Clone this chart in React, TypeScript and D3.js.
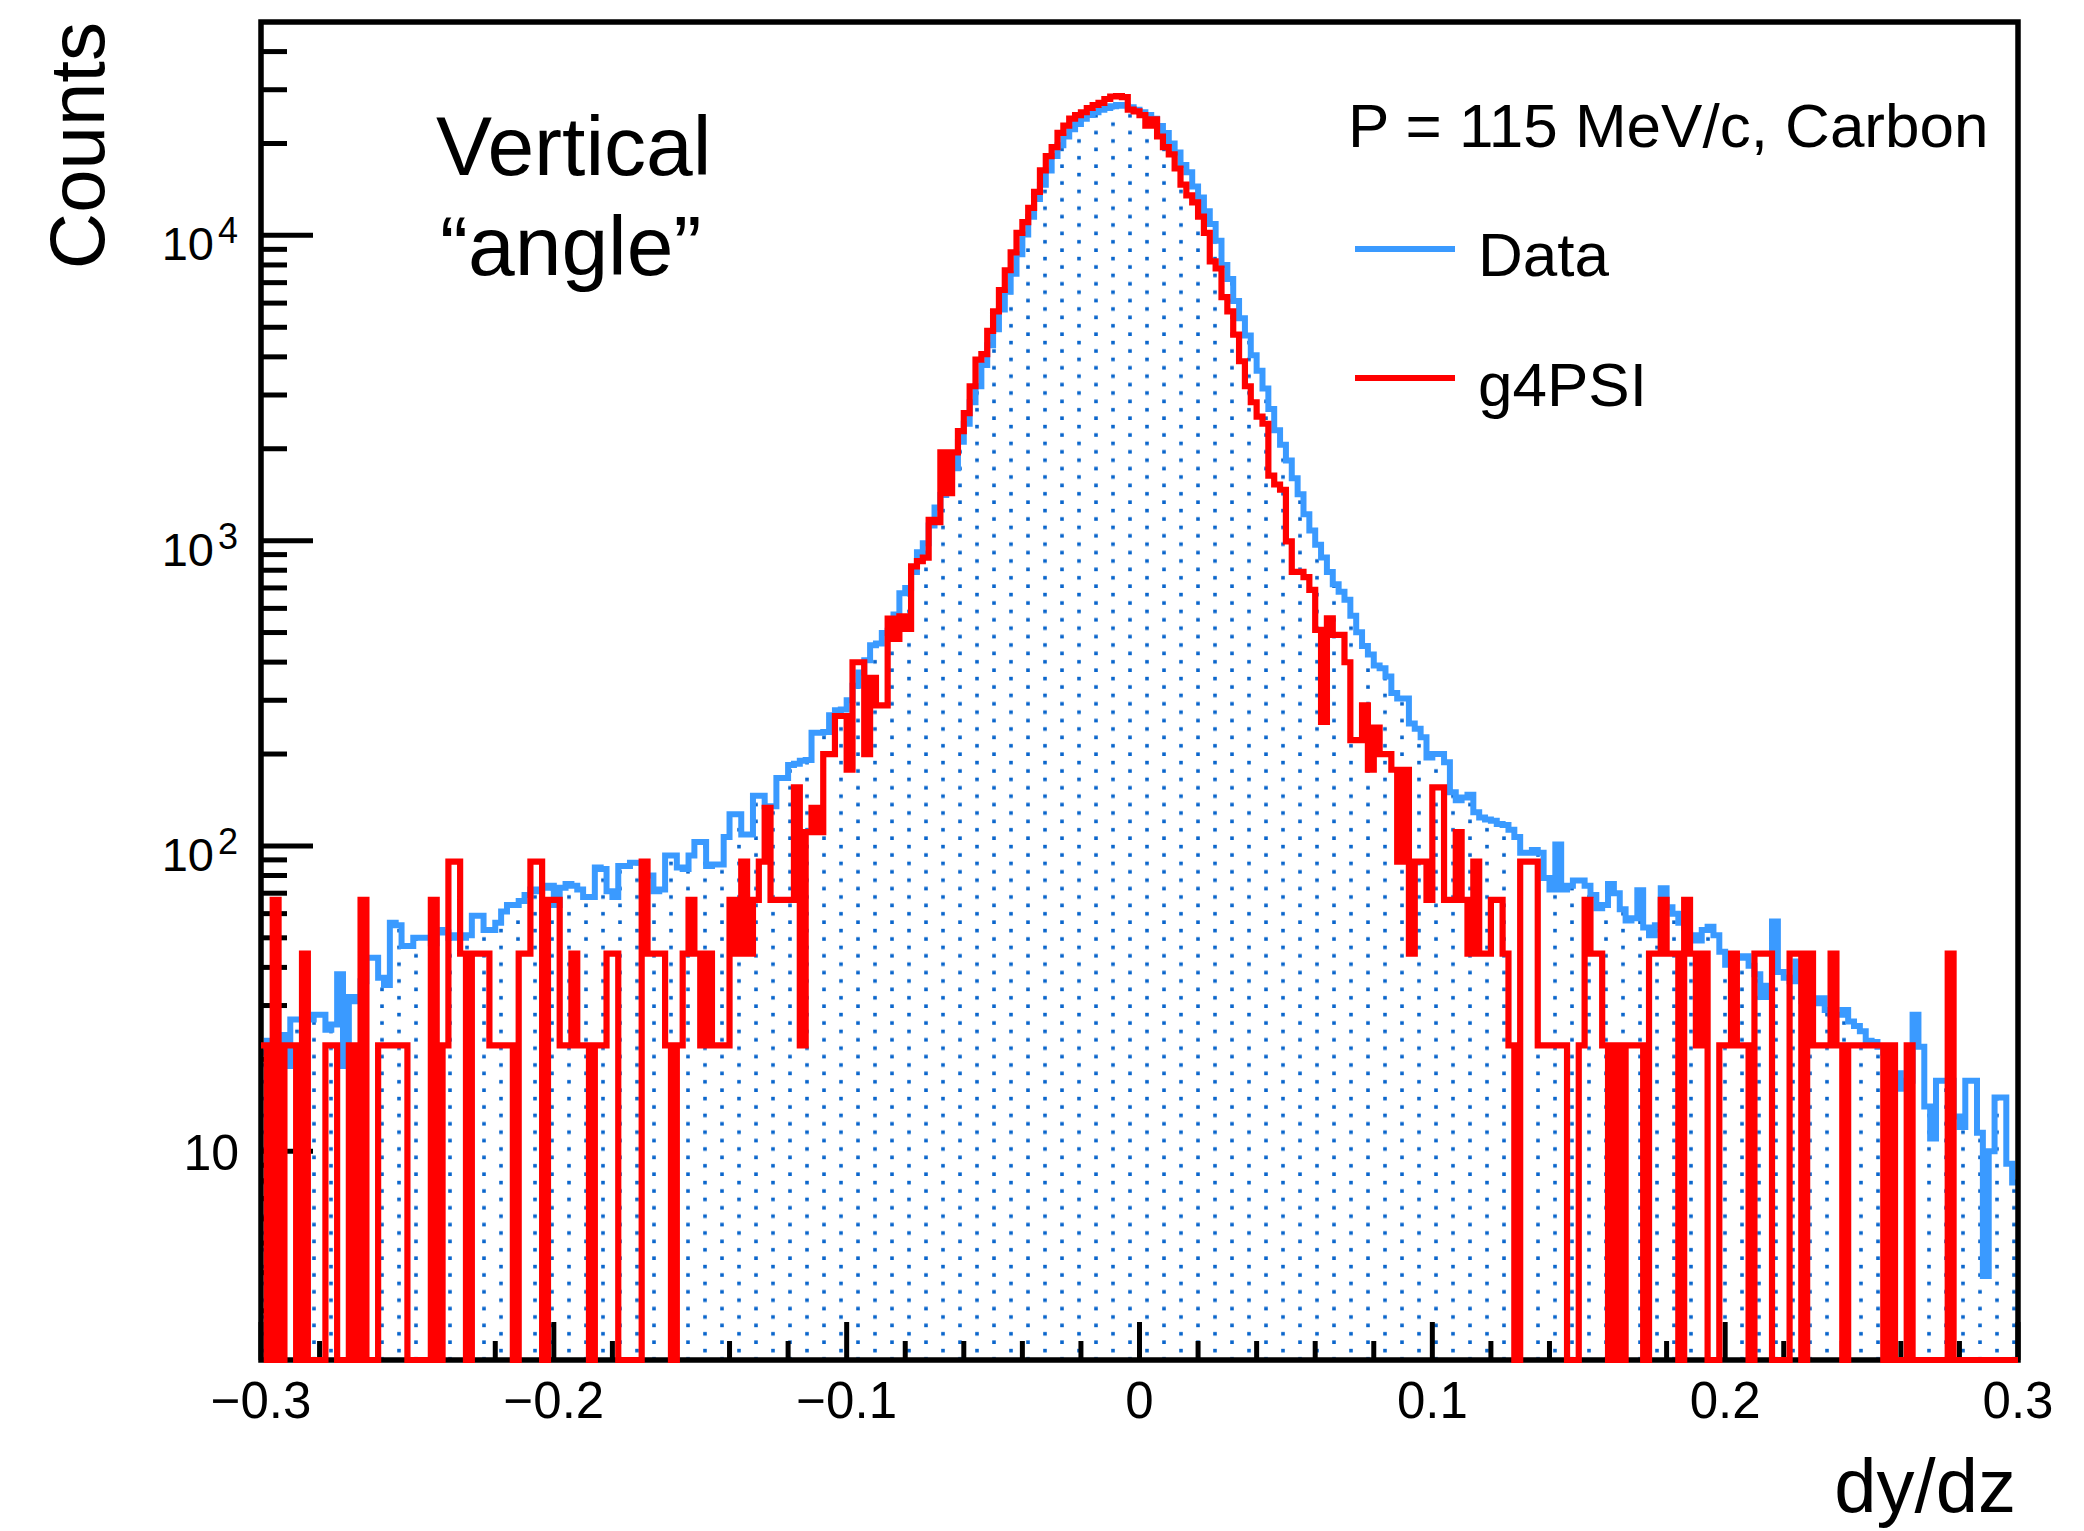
import React, { useEffect } from "react";
import * as d3 from "d3";

// ---- axis ranges ----
const X_MIN = -0.3;
const X_MAX = 0.3;
const N_BINS = 300;
const Y_MIN = 2.07;
const Y_MAX = 50000;

// ---- histogram contents (300 bins of width 0.002 from -0.3 to 0.3) ----
const DATA_COUNTS = [
  21, 23, 21, 24, 19, 27, 27, 26, 27, 28,
  28, 25, 26, 38, 19, 32, 31, 36, 43, 43,
  37, 35, 56, 55, 47, 47, 50, 50, 50, 48,
  53, 52, 50, 51, 50, 51, 59, 59, 53, 53,
  56, 61, 64, 64, 66, 69, 72, 71, 73, 74,
  64, 73, 75, 74, 72, 68, 68, 85, 84, 71,
  68, 86, 86, 88, 88, 80, 80, 71, 72, 93,
  93, 85, 84, 93, 103, 103, 86, 87, 87, 107,
  127, 127, 109, 109, 146, 146, 135, 135, 167, 167,
  184, 186, 190, 191, 235, 235, 236, 268, 278, 280,
  300, 335, 370, 406, 454, 460, 498, 507, 573, 673,
  700, 790, 917, 980, 1122, 1284, 1410, 1613, 1725, 2110,
  2415, 2840, 3205, 3765, 4370, 4930, 5720, 6540, 7480, 8670,
  10060, 11510, 13160, 14660, 16320, 18190, 19720, 21090, 22250, 23170,
  24110, 24780, 25310, 25810, 26150, 26500, 26740, 26560, 26300, 25810,
  25310, 24780, 24110, 22840, 21660, 19990, 18680, 16990, 16100, 14460,
  13300, 12000, 10900, 9600, 8000, 7200, 6100, 5350, 4700, 4050,
  3600, 3150, 2700, 2300, 2060, 1830, 1600, 1420, 1220, 1080,
  970, 880, 790, 720, 680, 640, 568, 501, 452, 424,
  390, 382, 359, 317, 304, 304, 252, 242, 227, 195,
  200, 200, 188, 150, 141, 144, 147, 129, 124, 122,
  121, 118, 117, 113, 107, 95, 95, 97, 95, 78.5,
  72, 101, 72, 74, 77, 77, 74, 69, 62.5, 64,
  75, 70, 62, 57, 58, 71.6, 54, 51, 55, 72.6,
  63, 60, 56, 54, 51, 49, 53, 54.3, 51, 45,
  40.8, 42, 43, 43.5, 40.5, 38, 32, 34.8, 56.5, 38.6,
  37, 36, 41.8, 31, 31, 30.5, 31.7, 29, 28, 28,
  29, 26.6, 25.7, 24.7, 23, 22.8, 22, 21, 20, 18,
  16, 17, 28, 22, 14, 11, 17, 17, 17, 13,
  12, 17, 17, 11.5, 3.9, 10, 15, 15, 9.1, 7.9,
];

const G4PSI_COUNTS = [
  22.2, 0, 66.6, 0, 22.2, 22.2, 0, 44.4, 0, 0,
  0, 22.2, 22.2, 0, 0, 22.2, 0, 66.6, 0, 0,
  22.2, 22.2, 22.2, 22.2, 22.2, 0, 0, 0, 0, 66.6,
  0, 22.2, 88.8, 88.8, 44.4, 0, 44.4, 44.4, 44.4, 22.2,
  22.2, 22.2, 22.2, 0, 44.4, 44.4, 88.8, 88.8, 0, 66.6,
  66.6, 22.2, 22.2, 44.4, 22.2, 22.2, 0, 22.2, 22.2, 44.4,
  44.4, 0, 0, 0, 0, 88.8, 44.4, 44.4, 44.4, 22.2,
  0, 22.2, 44.4, 66.6, 44.4, 22.2, 44.4, 22.2, 22.2, 22.2,
  66.6, 44.4, 88.8, 44.4, 66.6, 88.8, 133.2, 66.6, 66.6, 66.6,
  66.6, 155.4, 22.2, 111, 133.2, 111, 199.8, 199.8, 266.4, 266.4,
  177.6, 399.6, 399.6, 199.8, 355.2, 288.6, 288.6, 555, 477, 565,
  514, 823, 857, 880, 1170, 1150, 1945, 1430, 1945, 2285,
  2617, 3204, 3920, 4083, 4864, 5637, 6623, 7686, 8790, 10190,
  11050, 12300, 13890, 16330, 18190, 19450, 21670, 22870, 24110, 24780,
  25310, 26140, 26730, 27180, 27970, 28500, 28580, 28370, 25810, 25470,
  24780, 22870, 24000, 21080, 19450, 18430, 16560, 14660, 13520, 12820,
  11520, 10190, 8220, 7790, 6280, 5640, 4730, 3870, 3205, 2840,
  2550, 2415, 1632, 1527, 1468, 994, 790, 790, 760, 690,
  510, 255, 556, 491, 491, 399.6, 222, 222, 288.6, 177.6,
  244.2, 199.8, 199.8, 177.6, 88.8, 177.6, 44.4, 88.8, 88.8, 66.6,
  155.4, 155.4, 66.6, 66.6, 111, 66.6, 44.4, 88.8, 44.4, 44.4,
  66.6, 66.6, 44.4, 22.2, 0, 88.8, 88.8, 88.8, 22.2, 22.2,
  22.2, 22.2, 22.2, 0, 0, 22.2, 66.6, 44.4, 44.4, 22.2,
  0, 22.2, 0, 22.2, 22.2, 22.2, 0, 44.4, 44.4, 66.6,
  44.4, 44.4, 0, 66.6, 44.4, 22.2, 44.4, 0, 0, 22.2,
  22.2, 44.4, 22.2, 22.2, 0, 44.4, 44.4, 44.4, 0, 0,
  0, 44.4, 44.4, 0, 44.4, 22.2, 22.2, 22.2, 44.4, 22.2,
  0, 22.2, 22.2, 22.2, 22.2, 22.2, 22.2, 0, 22.2, 0,
  0, 22.2, 0, 0, 0, 0, 0, 0, 44.4, 0,
  0, 0, 0, 0, 0, 0, 0, 0, 0, 0,
];

// ---- tick labels ----
const X_MAJOR_TICKS = [-0.3, -0.2, -0.1, 0, 0.1, 0.2, 0.3];
const X_TICK_LABELS = ["\u22120.3", "\u22120.2", "\u22120.1", "0", "0.1", "0.2", "0.3"];
const Y_DECADES = [10, 100, 1000, 10000];
const Y_DECADE_EXPONENTS = ["1", "2", "3", "4"];

const SERIES_NAMES = ["Data", "g4PSI"];
const INFO_TEXT = "P = 115 MeV/c, Carbon";

// ---- layout ----
const W = 2084;
const H = 1531;
const FL = 261;
const FR = 2018;
const FT = 22;
const FB = 1360;
const FONT = "'Liberation Sans', Arial, Helvetica, sans-serif";
const BLUE = "#3A9AFF";
const DOT = "#0A66CC";
const RED = "#FF0000";

export default function App() {
  useEffect(() => {
    document.body.style.margin = "0";
  }, []);

  const x = d3.scaleLinear().domain([X_MIN, X_MAX]).range([FL, FR]);
  const y = d3.scaleLog().domain([Y_MIN, Y_MAX]).range([FB, FT]);
  const binW = (X_MAX - X_MIN) / N_BINS;
  const edges = d3.range(N_BINS + 1).map((i) => X_MIN + i * binW);
  const yv = (v: number) => y(Math.max(v, Y_MIN));

  const stepLine = (vals: number[]) => {
    let p = "";
    vals.forEach((v, i) => {
      const cmd = i === 0 ? "M" : "L";
      p += `${cmd}${x(edges[i]).toFixed(2)},${yv(v).toFixed(2)}L${x(edges[i + 1]).toFixed(2)},${yv(v).toFixed(2)}`;
    });
    return p;
  };
  const stepArea = (vals: number[]) =>
    `M${x(edges[0])},${FB}` + stepLine(vals).replace(/^M/, "L") + `L${x(edges[N_BINS])},${FB}Z`;

  // minor ticks
  const xMinor = d3.range(-0.3, 0.3001, 0.02).filter(
    (t) => !X_MAJOR_TICKS.some((m) => Math.abs(m - t) < 1e-6)
  );
  const yMinor: number[] = [];
  [1, 10, 100, 1000, 10000].forEach((dec) => {
    for (let k = 2; k <= 9; k++) {
      const v = k * dec;
      if (v > Y_MIN && v < Y_MAX * 0.999) yMinor.push(v);
    }
  });

  return (
    <div style={{ position: "absolute", left: 0, top: 0 }}>
      <svg width={W} height={H} viewBox={`0 0 ${W} ${H}`} style={{ display: "block", background: "#fff" }}>
        <defs>
          <pattern id="dots" patternUnits="userSpaceOnUse" width={34} height={16.8}>
            <rect x={23.2} y={4.8} width={3.6} height={3.6} fill={DOT} />
            <rect x={6.2} y={13.2} width={3.6} height={3.6} fill={DOT} />
          </pattern>
          <clipPath id="frameClip">
            <rect x={FL} y={FT} width={FR - FL} height={FB - FT} />
          </clipPath>
        </defs>

        {/* Data histogram: dotted fill + outline */}
        <g clipPath="url(#frameClip)">
          <path d={stepArea(DATA_COUNTS)} fill="url(#dots)" stroke="none" />
          <path d={stepLine(DATA_COUNTS)} fill="none" stroke={BLUE} strokeWidth={6} strokeLinejoin="miter" />
        </g>

        {/* frame */}
        <rect x={FL} y={FT} width={FR - FL} height={FB - FT} fill="none" stroke="#000" strokeWidth={5.5} />

        {/* x ticks */}
        {X_MAJOR_TICKS.map((t) => (
          <line key={"xM" + t} x1={x(t)} x2={x(t)} y1={FB} y2={FB - 38} stroke="#000" strokeWidth={5} />
        ))}
        {xMinor.map((t) => (
          <line key={"xm" + t} x1={x(t)} x2={x(t)} y1={FB} y2={FB - 19} stroke="#000" strokeWidth={5} />
        ))}
        {X_MAJOR_TICKS.map((t, i) => (
          <text key={"xl" + t} x={x(t)} y={1418} fontFamily={FONT} fontSize={51} textAnchor="middle" fill="#000">
            {X_TICK_LABELS[i]}
          </text>
        ))}

        {/* y ticks */}
        {Y_DECADES.map((v) => (
          <line key={"yM" + v} x1={FL} x2={FL + 52} y1={y(v)} y2={y(v)} stroke="#000" strokeWidth={5} />
        ))}
        {yMinor.map((v) => (
          <line key={"ym" + v} x1={FL} x2={FL + 26} y1={y(v)} y2={y(v)} stroke="#000" strokeWidth={5} />
        ))}
        {Y_DECADES.map((v, i) =>
          i === 0 ? (
            <text key={"yl" + v} x={239} y={y(v) + 19} fontFamily={FONT} fontSize={50} textAnchor="end" fill="#000">
              10
            </text>
          ) : (
            <g key={"yl" + v}>
              <text x={214} y={y(v) + 25} fontFamily={FONT} fontSize={47} textAnchor="end" fill="#000">
                10
              </text>
              <text x={238} y={y(v) + 8} fontFamily={FONT} fontSize={36} textAnchor="end" fill="#000">
                {Y_DECADE_EXPONENTS[i]}
              </text>
            </g>
          )
        )}

        {/* g4PSI histogram */}
        <path d={stepLine(G4PSI_COUNTS)} fill="none" stroke={RED} strokeWidth={6.2} strokeLinejoin="miter" />

        {/* axis titles */}
        <text x={2016} y={1512} fontFamily={FONT} fontSize={76} textAnchor="end" fill="#000">
          dy/dz
        </text>
        <text
          transform={`translate(104,22) rotate(-90)`}
          fontFamily={FONT}
          fontSize={78}
          textAnchor="end"
          fill="#000"
        >
          Counts
        </text>

        {/* annotation */}
        <text x={436} y={175} fontFamily={FONT} fontSize={84} fill="#000">
          Vertical
        </text>
        <text x={440} y={275} fontFamily={FONT} fontSize={84} fill="#000">
          {"\u201Cangle\u201D"}
        </text>

        {/* legend */}
        <text x={1348} y={147} fontFamily={FONT} fontSize={62} fill="#000">
          {INFO_TEXT}
        </text>
        <line x1={1355} x2={1455} y1={249} y2={249} stroke={BLUE} strokeWidth={6} />
        <text x={1478} y={276} fontFamily={FONT} fontSize={62} fill="#000">
          {SERIES_NAMES[0]}
        </text>
        <line x1={1355} x2={1455} y1={378} y2={378} stroke={RED} strokeWidth={6} />
        <text x={1478} y={406} fontFamily={FONT} fontSize={62} fill="#000">
          {SERIES_NAMES[1]}
        </text>
      </svg>
    </div>
  );
}
